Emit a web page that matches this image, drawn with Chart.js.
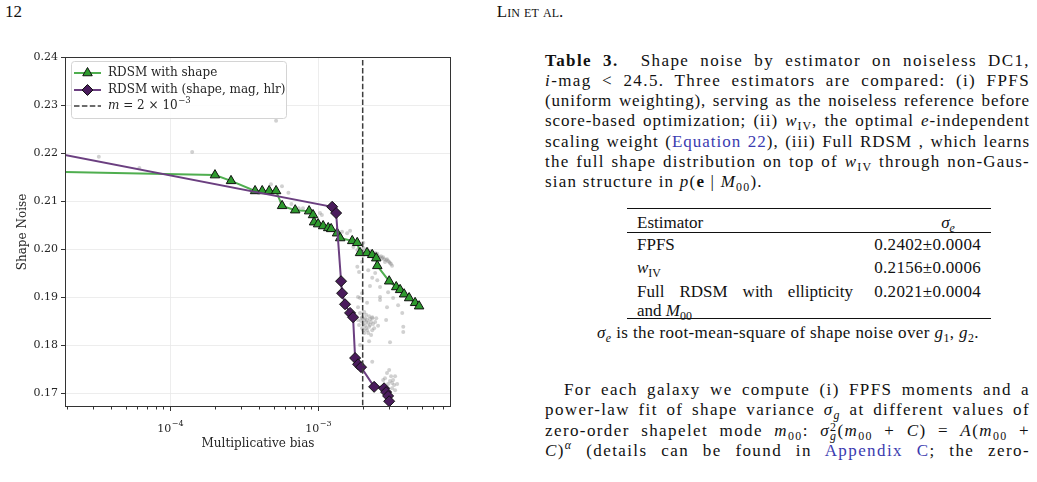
<!DOCTYPE html>
<html>
<head>
<meta charset="utf-8">
<script src="https://cdn.jsdelivr.net/npm/chart.js@4/dist/chart.umd.min.js"></script>
<style>
  body { margin: 0; background: #fff; width: 1037px; height: 482px; overflow: hidden; position: relative;
         font-family: 'Liberation Serif', 'DejaVu Serif', serif; color: #111; font-size: 17px; }
  .abs { position: absolute; white-space: nowrap; }
  .ln { position: absolute; left: 545px; width: 485px; height: 20px; line-height: 20px;
        text-align: justify; text-align-last: justify; }
  .last { text-align: left; text-align-last: left; }
  sub { font-size: 70%; vertical-align: -0.3em; line-height: 0; }
  sup { font-size: 70%; vertical-align: 0.55em; line-height: 0; }
  .lk { color: #3b3bb0; }
  .rule { position: absolute; left: 627px; width: 364px; background: #111; }
  .ss { display: inline-block; vertical-align: -0.35em; line-height: 0.8; font-size: 70%; text-align: left; }
  #chartBox { position: absolute; left: 0; top: 40px; width: 500px; height: 420px; }
</style>
</head>
<body>
<div class="abs" style="left:5px;top:2px;">12</div>
<div class="abs" style="left:430px;width:200px;top:2px;text-align:center;font-variant:small-caps;">Lin et al.</div>

<div id="chartBox"><canvas id="chart"></canvas></div>

<div class="ln" style="top:51px;"><b>Table 3.</b>&nbsp; Shape noise by estimator on noiseless DC1,</div>
<div class="ln" style="top:71px;"><i>i</i>-mag &lt; 24.5. Three estimators are compared: (i) FPFS</div>
<div class="ln" style="top:91px;">(uniform weighting), serving as the noiseless reference before</div>
<div class="ln" style="top:111px;">score-based optimization; (ii) <i>w</i><sub>IV</sub>, the optimal <i>e</i>-independent</div>
<div class="ln" style="top:132px;">scaling weight (<span class="lk">Equation 22</span>), (iii) Full RDSM , which learns</div>
<div class="ln" style="top:152px;">the full shape distribution on top of <i>w</i><sub>IV</sub> through non-Gaus-</div>
<div class="ln last" style="top:172px;">sian structure in <i>p</i>(<b>e</b> | <i>M</i><sub>00</sub>).</div>

<div class="rule" style="top:208px;height:1.3px;"></div>
<div class="abs" style="left:637px;top:213px;">Estimator</div>
<div class="abs" style="left:900px;width:96px;top:213px;text-align:center;"><i>σ<sub>e</sub></i></div>
<div class="rule" style="top:232px;height:1px;"></div>
<div class="abs" style="left:637px;top:235px;">FPFS</div>
<div class="abs" style="left:850px;width:131px;top:235px;text-align:right;letter-spacing:0.3px;">0.2402±0.0004</div>
<div class="abs" style="left:637px;top:258px;"><i>w</i><sub>IV</sub></div>
<div class="abs" style="left:850px;width:131px;top:258px;text-align:right;letter-spacing:0.3px;">0.2156±0.0006</div>
<div class="abs" style="left:637px;width:216px;top:282px;text-align:justify;text-align-last:justify;white-space:normal;">Full RDSM with ellipticity</div>
<div class="abs" style="left:850px;width:131px;top:282px;text-align:right;letter-spacing:0.3px;">0.2021±0.0004</div>
<div class="abs" style="left:637px;top:301px;">and <i>M</i><sub>00</sub></div>
<div class="rule" style="top:318px;height:1.3px;"></div>
<div class="abs" style="left:588px;width:400px;top:323px;text-align:center;letter-spacing:0.4px;"><i>σ<sub>e</sub></i> is the root-mean-square of shape noise over <i>g</i><sub>1</sub>, <i>g</i><sub>2</sub>.</div>

<div class="ln" style="top:380px;left:564px;width:466px;">For each galaxy we compute (i) FPFS moments and a</div>
<div class="ln" style="top:400px;">power-law fit of shape variance <i>σ<sub>g</sub></i> at different values of</div>
<div class="ln" style="top:421px;">zero-order shapelet mode <i>m</i><sub>00</sub>: <i>σ</i><span class="ss">2<br><i>g</i></span>(<i>m</i><sub>00</sub> + <i>C</i>) = <i>A</i>(<i>m</i><sub>00</sub> +</div>
<div class="ln" style="top:441px;"><i>C</i>)<sup><i>α</i></sup> (details can be found in <span class="lk">Appendix C</span>; the zero-</div>

<script>
// RDSM with shape (first point lies left of the visible range)
const greenX = [1.0e-5, 2.01e-4, 2.58e-4, 3.75e-4, 4.19e-4, 4.67e-4, 5.20e-4, 5.71e-4, 7.00e-4, 8.69e-4,
  9.24e-4, 9.39e-4, 1.0e-3, 1.081e-3, 1.17e-3, 1.225e-3, 1.343e-3, 1.41e-3, 1.70e-3, 1.837e-3,
  1.92e-3, 2.14e-3, 2.32e-3, 2.47e-3, 2.51e-3, 3.02e-3, 3.37e-3, 3.58e-3, 3.81e-3, 4.12e-3, 4.52e-3, 4.81e-3];
const greenY = [0.2162, 0.2154, 0.2142, 0.2121, 0.2121, 0.2121, 0.2121, 0.2090, 0.2081, 0.2079,
  0.2071, 0.2056, 0.2052, 0.2048, 0.2044, 0.2042, 0.2033, 0.2023, 0.2017, 0.2013,
  0.1992, 0.1992, 0.1988, 0.1981, 0.1965, 0.1933, 0.1921, 0.1915, 0.1906, 0.1898, 0.1888, 0.1881];

// RDSM with (shape, mag, hlr)
const purpleX = [1.0e-5, 1.244e-3, 1.323e-3, 1.429e-3, 1.452e-3, 1.52e-3, 1.643e-3, 1.722e-3, 1.778e-3,
  1.862e-3, 1.95e-3, 2.39e-3, 2.79e-3, 2.88e-3, 2.97e-3, 3.02e-3];
const purpleY = [0.2213, 0.2088, 0.2075, 0.1933, 0.1908, 0.1885, 0.1867, 0.1858, 0.1773,
  0.1760, 0.1754, 0.1713, 0.1710, 0.1702, 0.1694, 0.1683];

// grey background points
const noiseX = [3.3e-5, 6.2e-5, 1.41e-4, 5.2e-4, 4.8e-4, 5.7e-4, 6.3e-4, 6.6e-4, 7.4e-4, 7.9e-4,
  1.03e-3, 1.06e-3, 1.45e-3, 1.57e-3, 1.645e-3, 1.73e-3, 1.84e-3, 2.02e-3, 1.98e-3, 1.84e-3, 1.89e-3,
  2.11e-3, 2.18e-3, 2.24e-3, 2.32e-3, 2.39e-3, 2.47e-3, 2.54e-3, 2.62e-3, 2.71e-3, 2.79e-3, 2.88e-3,
  2.97e-3, 3.06e-3, 3.11e-3, 2.83e-3, 2.58e-3, 2.35e-3, 2.21e-3,
  2.14e-3, 2.28e-3, 2.43e-3, 2.51e-3, 2.66e-3, 2.75e-3, 2.92e-3, 3.02e-3, 3.16e-3, 2.02e-3,
  2.18e-3, 2.43e-3, 2.32e-3, 2.51e-3, 2.62e-3, 2.62e-3, 2.97e-3, 3.21e-3, 3.47e-3, 2.92e-3, 2.24e-3,
  1.86e-3, 1.98e-3, 2.32e-3, 2.88e-3, 3.76e-3, 3.76e-3, 3.06e-3, 1.92e-3, 1.86e-3, 1.98e-3,
  1.92e-3, 1.98e-3, 2.05e-3, 2.11e-3, 2.18e-3, 2.24e-3, 2.08e-3, 1.98e-3, 2.14e-3, 2.32e-3, 2.43e-3,
  2.21e-3, 2.05e-3, 2.28e-3, 1.86e-3, 2.11e-3, 2.39e-3, 2.21e-3, 1.92e-3, 2.54e-3, 2.14e-3, 2.62e-3,
  3.70e-3, 2.32e-3,
  1.95e-3, 2.02e-3, 2.08e-3, 2.14e-3, 2.21e-3, 2.28e-3, 2.35e-3, 2.11e-3, 2.02e-3, 2.18e-3,
  2.24e-3, 2.47e-3, 1.89e-3, 2.05e-3, 2.32e-3,
  3.02e-3, 2.92e-3, 2.75e-3, 3.06e-3, 3.21e-3, 3.16e-3, 3.42e-3, 2.97e-3, 3.31e-3, 2.66e-3, 3.16e-3, 3.31e-3,
  2.83e-3, 3.11e-3, 3.26e-3];
const noiseY = [0.2192, 0.2169, 0.2202, 0.2267, 0.2135, 0.2131, 0.2117, 0.2094, 0.2085, 0.2085,
  0.2075, 0.2071, 0.2036, 0.2033, 0.2038, 0.2004, 0.1998, 0.2013, 0.1973, 0.1963, 0.1952,
  0.1998, 0.1996, 0.1994, 0.1992, 0.1990, 0.1988, 0.1985, 0.1983, 0.1981, 0.1979, 0.1977,
  0.1975, 0.1971, 0.1969, 0.1973, 0.1979, 0.1983, 0.1985,
  0.2000, 0.1996, 0.1992, 0.1990, 0.1985, 0.1983, 0.1979, 0.1973, 0.1965, 0.2002,
  0.1956, 0.1950, 0.1940, 0.1935, 0.1921, 0.1900, 0.1910, 0.1898, 0.1883, 0.1879, 0.1923,
  0.1900, 0.1908, 0.1858, 0.1852, 0.1838, 0.1827, 0.1806, 0.1898, 0.1879, 0.1858,
  0.1867, 0.1856, 0.1852, 0.1848, 0.1846, 0.1842, 0.1840, 0.1835, 0.1831, 0.1856, 0.1848,
  0.1860, 0.1825, 0.1821, 0.1852, 0.1863, 0.1835, 0.1808, 0.1800, 0.1840, 0.1888, 0.1894,
  0.1867, 0.1765,
  0.1850, 0.1844, 0.1856, 0.1852, 0.1838, 0.1848, 0.1844, 0.1835, 0.1831, 0.1825,
  0.1854, 0.1856, 0.1842, 0.1869, 0.1831,
  0.1748, 0.1742, 0.1727, 0.1725, 0.1727, 0.1721, 0.1719, 0.1719, 0.1706, 0.1713, 0.1710, 0.1735,
  0.1731, 0.1735, 0.1717];

const biasLimit = 2e-3;
const xRange = [1.95e-5, 7.9e-3];
const yRange = [0.1671, 0.2400];
const yTicks = [0.17, 0.18, 0.19, 0.20, 0.21, 0.22, 0.23, 0.24];
const xMajorTicks = [1e-4, 1e-3];
const xTickExponents = ['\u22124', '\u22123'];
const xMinorTicks = [2e-5, 3e-5, 4e-5, 5e-5, 6e-5, 7e-5, 8e-5, 9e-5,
  2e-4, 3e-4, 4e-4, 5e-4, 6e-4, 7e-4, 8e-4, 9e-4, 2e-3, 3e-3, 4e-3, 5e-3, 6e-3, 7e-3];

const SERIF = "'DejaVu Serif', serif";
const TEXT = '#262626';
const GREEN_LINE = '#4fae4f', GREEN_FILL = '#2e9a2e';
const PURPLE_LINE = '#6b3f80', PURPLE_FILL = '#4a1b5c';

// stretch the Times-like lines a little so they read like the TeX column
let lastLs = 0;
document.querySelectorAll('.ln').forEach(el => {
  const target = el.clientWidth;
  if (el.classList.contains('last')) { el.style.letterSpacing = lastLs + 'px'; return; }
  el.style.width = 'auto';
  el.style.whiteSpace = 'nowrap';
  const natural = el.scrollWidth;
  el.style.width = target + 'px';
  el.style.whiteSpace = '';
  const chars = el.textContent.length;
  lastLs = Math.min(1.4, Math.max(0, (target * 0.975 - natural) / chars));
  el.style.letterSpacing = lastLs.toFixed(2) + 'px';
});

const pts = (xs, ys) => xs.map((x, i) => ({ x, y: ys[i] }));

const framePlugin = {
  id: 'frame',
  afterDraw(chart) {
    const { ctx, chartArea: a, scales } = chart;
    ctx.save();
    ctx.strokeStyle = '#333';
    ctx.lineWidth = 1;
    ctx.strokeRect(a.left + 0.5, a.top + 0.5, a.right - a.left - 1, a.bottom - a.top - 1);
    ctx.beginPath();
    xMinorTicks.forEach(v => {
      const px = Math.round(scales.x.getPixelForValue(v)) + 0.5;
      ctx.moveTo(px, a.bottom); ctx.lineTo(px, a.bottom + 2.5);
    });
    xMajorTicks.forEach(v => {
      const px = Math.round(scales.x.getPixelForValue(v)) + 0.5;
      ctx.moveTo(px, a.bottom); ctx.lineTo(px, a.bottom + 4);
    });
    yTicks.forEach(v => {
      const py = Math.round(scales.y.getPixelForValue(v)) + 0.5;
      ctx.moveTo(a.left, py); ctx.lineTo(a.left - 4, py);
    });
    ctx.stroke();

    // x tick labels as 10^k
    ctx.fillStyle = TEXT;
    ctx.textBaseline = 'alphabetic';
    xMajorTicks.forEach((v, i) => {
      const px = scales.x.getPixelForValue(v);
      ctx.font = `11px ${SERIF}`;
      const wb = ctx.measureText('10').width;
      ctx.font = `8px ${SERIF}`;
      const we = ctx.measureText(xTickExponents[i]).width;
      const x0 = px - (wb + we) / 2;
      ctx.font = `11px ${SERIF}`;
      ctx.fillText('10', x0, a.bottom + 25);
      ctx.font = `8px ${SERIF}`;
      ctx.fillText(xTickExponents[i], x0 + wb + 0.5, a.bottom + 19);
    });

    // legend box
    const lx = a.left + 6, ly = a.top + 4, lw = 215, lh = 57;
    ctx.beginPath();
    ctx.roundRect(lx + 0.5, ly + 0.5, lw, lh, 3);
    ctx.fillStyle = 'rgba(255,255,255,0.85)';
    ctx.fill();
    ctx.strokeStyle = '#d4d4d4';
    ctx.stroke();

    const sx0 = lx + 3, sx1 = lx + 30, mx = lx + 16.5, tx = lx + 37;
    const rows = [ly + 12, ly + 29, ly + 45];
    ctx.lineWidth = 2;
    ctx.strokeStyle = GREEN_LINE;
    ctx.beginPath(); ctx.moveTo(sx0, rows[0]); ctx.lineTo(sx1, rows[0]); ctx.stroke();
    ctx.strokeStyle = PURPLE_LINE;
    ctx.beginPath(); ctx.moveTo(sx0, rows[1]); ctx.lineTo(sx1, rows[1]); ctx.stroke();

    ctx.fillStyle = GREEN_FILL; ctx.strokeStyle = '#111'; ctx.lineWidth = 1;
    Chart.helpers.drawPoint(ctx, { pointStyle: 'triangle', radius: 5.5, borderWidth: 1 }, mx, rows[0]);
    ctx.fillStyle = PURPLE_FILL;
    Chart.helpers.drawPoint(ctx, { pointStyle: 'rectRot', radius: 5.5, borderWidth: 1 }, mx, rows[1]);

    ctx.strokeStyle = '#3d3d3d'; ctx.lineWidth = 1.5; ctx.setLineDash([5.5, 2.4]);
    ctx.beginPath(); ctx.moveTo(sx0, rows[2]); ctx.lineTo(sx1, rows[2]); ctx.stroke();
    ctx.setLineDash([]);

    ctx.fillStyle = TEXT;
    ctx.textBaseline = 'middle';
    ctx.font = `12px ${SERIF}`;
    ctx.fillText('RDSM with shape', tx, rows[0]);
    ctx.fillText('RDSM with (shape, mag, hlr)', tx, rows[1]);
    ctx.font = `italic 12px ${SERIF}`;
    ctx.fillText('m', tx, rows[2]);
    let w = ctx.measureText('m').width;
    ctx.font = `12px ${SERIF}`;
    const rest = ' = 2 \u00D7 10';
    ctx.fillText(rest, tx + w, rows[2]);
    w += ctx.measureText(rest).width;
    ctx.font = `8.5px ${SERIF}`;
    ctx.fillText('\u22123', tx + w + 0.5, rows[2] - 5);
    ctx.restore();
  }
};

new Chart(document.getElementById('chart'), {
  type: 'scatter',
  plugins: [framePlugin],
  data: {
    datasets: [
      {
        label: 'm = 2e-3',
        data: [{ x: biasLimit, y: 0.1 }, { x: biasLimit, y: 0.3 }],
        showLine: true, borderColor: '#3d3d3d', borderWidth: 1.5, borderDash: [5.5, 2.4],
        pointRadius: 0, order: 0,
      },
      {
        label: 'RDSM with (shape, mag, hlr)',
        data: pts(purpleX, purpleY),
        showLine: true, borderColor: PURPLE_LINE, borderWidth: 2,
        pointStyle: 'rectRot', pointRadius: 5.5,
        pointBackgroundColor: PURPLE_FILL, pointBorderColor: '#111', pointBorderWidth: 1,
        order: 1,
      },
      {
        label: 'RDSM with shape',
        data: pts(greenX, greenY),
        showLine: true, borderColor: GREEN_LINE, borderWidth: 2,
        pointStyle: 'triangle', pointRadius: 5.5,
        pointBackgroundColor: GREEN_FILL, pointBorderColor: '#111', pointBorderWidth: 1,
        order: 2,
      },
      {
        label: 'samples',
        data: pts(noiseX, noiseY),
        pointRadius: 2, pointBorderWidth: 0,
        pointBackgroundColor: 'rgba(140,140,140,0.4)',
        order: 3,
      },
    ]
  },
  options: {
    responsive: true,
    maintainAspectRatio: false,
    animation: false,
    events: [],
    layout: { padding: { top: 17, right: 49, left: 0, bottom: 0 } },
    plugins: { legend: { display: false }, tooltip: { enabled: false } },
    scales: {
      x: {
        type: 'logarithmic',
        min: xRange[0], max: xRange[1], bounds: 'data',
        afterFit(scale) { scale.height = 53; },
        afterBuildTicks(scale) {
          scale.ticks = [...xMinorTicks, ...xMajorTicks].sort((a, b) => a - b).map(v => ({ value: v }));
        },
        border: { display: false },
        grid: {
          drawTicks: false,
          lineWidth: 0.8,
          color: (c) => (c.tick && xMajorTicks.includes(c.tick.value)) ? '#e8e8e8' : 'rgba(0,0,0,0)',
        },
        ticks: { display: false, autoSkip: false },
        title: {
          display: true, text: 'Multiplicative bias', color: TEXT,
          font: { family: SERIF, size: 12 }, padding: { top: 0, bottom: 9 },
        },
      },
      y: {
        min: yRange[0], max: yRange[1], bounds: 'data',
        afterFit(scale) { scale.width = 65; },
        afterBuildTicks(scale) { scale.ticks = yTicks.map(v => ({ value: v })); },
        border: { display: false },
        grid: { drawTicks: false, lineWidth: 0.8, color: '#e8e8e8' },
        ticks: {
          padding: 7, color: TEXT, font: { family: SERIF, size: 11 },
          callback(v) { return v.toFixed(2); }
        },
        title: {
          display: true, text: 'Shape Noise', color: TEXT,
          font: { family: SERIF, size: 12 }, padding: { top: 16, bottom: 0 },
        },
      },
    },
  },
});
</script>
</body>
</html>
